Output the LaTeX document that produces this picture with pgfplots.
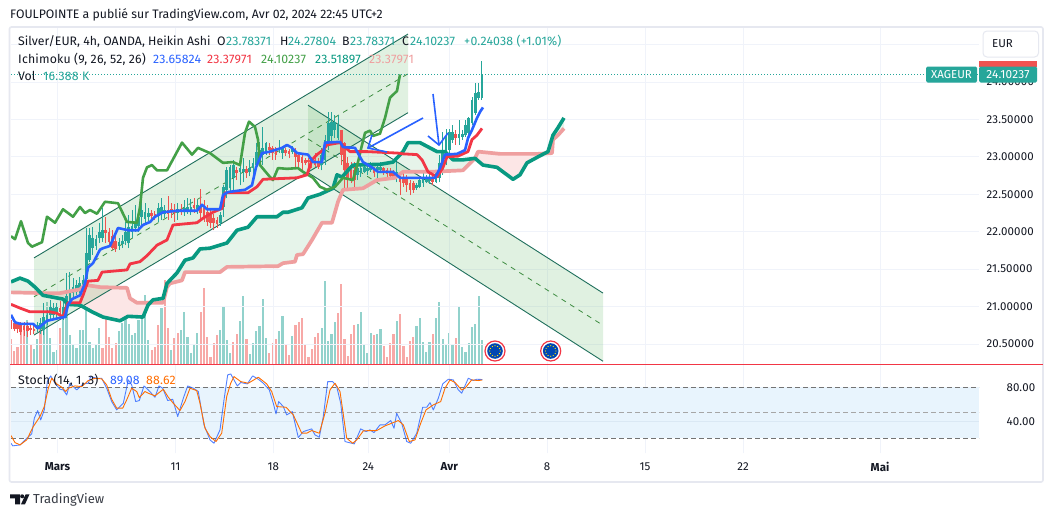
\documentclass[border=0pt]{standalone}
\usepackage{pgfplots}
\usepackage{pgfplotstable}
\usepackage{fontspec}
\pgfplotsset{compat=1.18}
\setmainfont{Fira Sans}
\newfontfamily\numf[LetterSpace=1.5]{Fira Sans}
\definecolor{cG}{HTML}{26A69A}
\definecolor{cR}{HTML}{EF5350}
\definecolor{vG}{HTML}{92D2CC}
\definecolor{vR}{HTML}{F7A9A7}
\definecolor{tenkan}{HTML}{2962FF}
\definecolor{kijun}{HTML}{F23645}
\definecolor{chikou}{HTML}{43A047}
\definecolor{spanA}{HTML}{089981}
\definecolor{spanB}{HTML}{EF9F9F}
\definecolor{cloudG}{HTML}{E6F4EA}
\definecolor{cloudR}{HTML}{FCE6E6}
\definecolor{chan}{HTML}{1F6F5C}
\definecolor{chanF}{HTML}{4CAF50}
\definecolor{gridc}{HTML}{F0F3FA}
\definecolor{framec}{HTML}{E6E8F0}
\definecolor{band}{HTML}{E8F4FD}
\definecolor{bandgrid}{HTML}{DAE8F4}
\definecolor{txt}{HTML}{131722}
\definecolor{stK}{HTML}{2962FF}
\definecolor{stD}{HTML}{FF6D00}

\pgfplotstableread{
i bot top lo hi
8 20.70 20.75 20.66 20.79
9 20.70 20.78 20.63 20.85
10 20.69 20.86 20.62 21.05
11 20.79 20.89 20.75 20.95
12 20.89 20.99 20.82 21.09
13 20.89 20.98 20.82 21.05
14 20.90 20.99 20.85 21.05
16 20.89 20.99 20.82 21.10
17 20.98 21.14 20.85 21.45
18 21.09 21.22 21.02 21.46
19 21.18 21.26 21.10 21.38
20 21.19 21.29 21.15 21.35
21 21.22 21.31 21.18 21.39
22 21.25 21.35 21.18 21.42
23 21.37 21.72 21.29 22.05
24 21.62 21.96 21.60 22.05
25 21.78 21.92 21.69 22.06
26 21.81 21.90 21.76 21.96
27 21.92 22.00 21.85 22.12
28 21.92 22.02 21.86 22.32
33 21.81 21.86 21.76 21.92
34 21.84 21.88 21.78 21.96
35 21.88 22.00 21.82 22.13
36 21.85 22.06 21.78 22.22
37 22.00 22.08 21.92 22.29
38 22.05 22.13 22.00 22.36
39 22.08 22.20 22.00 22.29
40 22.20 22.29 22.05 22.45
41 22.17 22.26 22.09 22.38
42 22.20 22.25 22.14 22.32
45 22.21 22.32 22.13 22.38
46 22.24 22.33 22.16 22.45
47 22.24 22.29 22.18 22.36
51 22.25 22.30 22.16 22.38
53 22.26 22.32 22.21 22.42
54 22.26 22.33 22.24 22.45
55 22.28 22.33 22.22 22.44
57 22.30 22.36 22.24 22.42
64 22.12 22.22 22.08 22.26
65 22.33 22.60 22.20 22.62
66 22.56 22.82 22.45 22.86
67 22.58 22.86 22.52 22.89
68 22.72 22.89 22.56 22.96
70 22.80 22.85 22.62 22.96
71 22.80 22.84 22.66 22.98
73 22.80 22.85 22.74 22.96
74 22.85 22.92 22.76 22.98
75 22.89 23.07 22.82 23.19
76 22.96 23.09 22.89 23.20
77 23.03 23.12 22.89 23.40
78 23.07 23.19 23.03 23.20
82 23.09 23.12 23.05 23.23
83 23.05 23.12 22.97 23.13
86 23.07 23.11 23.04 23.15
95 22.89 23.03 22.82 23.12
96 22.96 23.23 22.89 23.29
97 23.20 23.45 23.09 23.60
98 23.28 23.47 23.16 23.60
99 23.36 23.47 23.25 23.56
100 23.25 23.44 23.23 23.56
106 22.76 22.85 22.69 22.92
107 22.78 22.85 22.73 22.92
108 22.80 22.86 22.78 22.93
109 22.81 22.85 22.76 22.89
110 22.82 22.86 22.80 22.93
112 22.82 22.86 22.69 22.92
113 22.82 22.86 22.78 22.93
118 22.73 22.80 22.66 22.93
124 22.58 22.62 22.56 22.65
125 22.60 22.69 22.58 22.72
126 22.65 22.73 22.60 22.78
127 22.66 22.73 22.65 22.76
128 22.68 22.73 22.64 22.77
130 22.66 22.78 22.65 22.82
131 22.72 22.92 22.66 23.03
132 22.82 23.09 22.76 23.33
133 22.93 23.27 22.89 23.37
134 23.09 23.33 23.03 23.37
135 23.23 23.33 23.19 23.43
137 23.25 23.31 23.16 23.49
138 23.27 23.31 23.23 23.36
139 23.29 23.43 23.27 23.49
140 23.32 23.52 23.25 23.53
141 23.45 23.76 23.43 23.80
142 23.59 23.85 23.56 23.99
143 23.79 23.87 23.76 23.99
144 23.79 24.10 23.76 24.28
}\candleG
\pgfplotstableread{
i bot top lo hi
0 20.71 20.81 20.70 20.82
1 20.70 20.78 20.67 20.82
2 20.70 20.77 20.65 20.79
3 20.66 20.75 20.62 20.79
4 20.69 20.74 20.61 20.79
5 20.67 20.74 20.59 20.79
6 20.69 20.71 20.62 20.75
7 20.67 20.70 20.63 20.74
15 20.93 20.98 20.85 21.07
29 21.98 22.02 21.85 22.20
30 21.86 22.00 21.82 22.05
31 21.78 21.94 21.76 22.02
32 21.77 21.88 21.73 21.94
43 22.21 22.25 22.16 22.29
44 22.20 22.24 22.16 22.28
48 22.24 22.29 22.16 22.48
49 22.26 22.30 22.18 22.38
50 22.25 22.28 22.13 22.37
52 22.26 22.29 22.22 22.37
56 22.32 22.36 22.25 22.45
58 22.25 22.33 22.16 22.57
59 22.18 22.32 22.13 22.42
60 22.13 22.26 22.08 22.36
61 22.12 22.22 22.05 22.32
62 22.12 22.18 22.02 22.24
63 22.10 22.16 22.05 22.20
69 22.78 22.82 22.69 22.86
72 22.78 22.84 22.72 22.88
79 23.09 23.13 23.03 23.19
80 23.05 23.12 22.96 23.15
81 23.03 23.12 22.96 23.13
84 23.05 23.09 23.01 23.12
85 23.04 23.08 22.98 23.11
87 23.00 23.07 22.86 23.12
88 22.93 23.03 22.85 23.07
89 22.92 23.00 22.78 23.05
90 22.92 22.96 22.89 22.98
91 22.93 22.96 22.86 22.98
92 22.93 22.98 22.85 23.00
93 22.89 22.96 22.86 23.05
94 22.86 22.93 22.84 22.98
101 23.03 23.36 22.89 23.36
102 22.82 23.19 22.58 23.20
103 22.69 22.92 22.58 23.00
104 22.72 22.89 22.65 22.93
105 22.69 22.82 22.56 22.93
111 22.78 22.85 22.73 22.86
114 22.80 22.85 22.76 22.86
115 22.77 22.82 22.73 22.85
116 22.74 22.80 22.72 22.85
117 22.73 22.78 22.69 22.82
119 22.66 22.76 22.49 22.80
120 22.65 22.73 22.60 22.78
121 22.62 22.72 22.53 22.76
122 22.56 22.65 22.49 22.69
123 22.56 22.65 22.52 22.68
129 22.66 22.73 22.62 22.82
136 23.25 23.31 23.16 23.36
}\candleR

\pgfplotstableread{
i v
5 30.0
7 10.5
8 17.1
10 29.6
11 42.1
12 17.5
13 8.4
14 9.6
16 30.7
17 38.0
18 19.8
19 13.0
20 10.7
21 23.2
22 23.2
23 38.0
24 15.2
25 10.7
26 13.7
27 24.4
33 22.8
34 27.8
35 48.3
36 27.1
37 19.8
38 20.9
39 30.0
40 31.2
41 47.1
42 16.4
46 38.0
49 9.6
52 23.2
53 35.3
54 18.7
55 7.3
56 13.0
57 21.4
64 23.2
65 39.6
66 16.4
67 7.3
70 29.4
71 46.7
73 6.8
74 14.1
75 22.5
76 25.9
77 44.4
78 17.5
82 22.5
83 32.8
86 19.1
95 24.6
96 56.7
97 15.7
98 20.5
99 28.7
106 27.3
107 35.5
108 13.7
109 7.5
110 21.2
112 20.5
113 23.9
118 29.4
124 25.9
125 31.4
126 15.0
127 8.2
128 15.0
130 31.4
131 42.3
132 17.1
133 13.7
134 21.2
135 13.7
137 39.6
138 11.6
139 8.2
140 14.3
141 25.3
142 27.3
143 46.4
144 16.4
}\volG
\pgfplotstableread{
i v
0 16.8
1 8.9
2 11.8
3 24.4
4 27.8
6 13.7
9 23.7
15 24.4
28 10.7
29 46.0
30 18.7
31 10.7
32 14.6
43 9.6
44 11.8
45 26.6
47 57.4
48 24.4
50 17.5
51 21.4
58 35.3
59 52.1
60 18.7
61 5.0
62 14.1
63 19.8
68 15.2
69 20.5
72 16.8
79 7.5
80 14.1
81 17.1
84 13.0
85 6.1
87 26.6
88 28.7
89 31.4
90 13.7
91 4.8
92 10.2
93 18.4
94 21.2
100 34.8
101 54.6
102 17.1
103 5.5
104 20.5
105 26.6
111 19.8
114 12.3
115 4.8
116 14.3
117 20.5
119 34.1
120 12.3
121 4.8
122 15.7
123 18.4
129 20.5
136 17.8
}\volR

\pgfplotstableread{
x y
11 20.89
15 20.79
20 20.77
33 20.77
38 20.71
47 20.81
60 20.85
65 20.86
68 21.02
72 21.10
80 21.15
85 21.31
88 21.52
93 21.58
100 21.76
103 21.78
110 21.81
115 21.96
118 22.05
128 22.02
138 22.02
143 22.09
150 22.13
155 22.20
163 22.26
177 22.28
197 22.28
202 22.36
207 22.30
220 22.30
223 22.49
228 22.53
245 22.56
252 22.62
256 22.86
262 23.05
270 23.07
282 23.12
287 23.16
292 23.12
297 23.05
308 23.03
313 22.93
322 22.93
325 23.19
340 23.20
343 23.13
355 23.12
360 23.00
363 22.93
372 22.86
378 22.80
393 22.80
400 22.72
435 22.72
440 22.85
445 23.03
457 23.04
465 23.09
468 23.25
472 23.36
477 23.52
480 23.60
483 23.66
}\tenkanT
\pgfplotstableread{
x y
11 21.03
20 20.98
30 20.93
50 20.93
57 20.91
63 20.86
68 21.05
80 21.05
83 21.15
88 21.34
98 21.35
102 21.46
127 21.49
130 21.57
140 21.60
147 21.68
157 21.82
167 21.89
173 22.09
197 22.12
203 22.18
213 22.26
220 22.30
222 22.31
225 22.52
248 22.52
257 22.60
263 22.70
297 22.72
307 22.76
312 22.96
317 23.03
323 23.09
327 23.16
340 23.19
345 23.13
350 23.07
367 23.07
398 23.05
403 23.04
417 23.03
422 22.96
428 22.80
437 22.73
443 22.86
447 23.00
458 23.01
468 23.07
472 23.23
477 23.29
482 23.38
}\kijunT
\pgfplotstableread{
x y
11 21.94
15 21.90
21 22.14
28 21.85
32 21.80
42 21.86
47 22.20
55 22.12
63 22.30
73 22.20
80 22.33
85 22.25
90 22.29
97 22.24
105 22.40
118 22.38
127 22.13
137 22.12
140 22.33
143 22.72
147 22.86
152 22.89
157 22.82
167 22.82
182 23.19
192 23.03
198 23.12
210 23.05
223 22.92
233 22.93
240 22.89
245 23.32
249 23.47
255 23.40
258 23.23
260 22.89
270 22.73
273 22.69
278 22.85
287 22.84
298 22.85
303 22.80
313 22.72
320 22.60
327 22.56
335 22.60
343 22.72
353 22.69
358 22.93
362 23.16
365 23.32
370 23.35
373 23.28
380 23.31
385 23.52
390 23.79
397 23.88
400 24.10
}\chikouT
\pgfplotstableread{
x y
11 21.33
20 21.38
28 21.34
35 21.26
43 21.15
63 21.10
68 21.03
80 21.02
92 20.93
103 20.86
120 20.81
128 20.87
143 20.86
148 21.02
153 21.09
163 21.11
167 21.31
177 21.45
185 21.62
193 21.65
200 21.77
210 21.78
227 21.85
237 22.02
248 22.06
257 22.20
277 22.20
283 22.26
288 22.26
302 22.32
308 22.45
320 22.50
333 22.58
337 22.76
342 22.73
350 22.85
353 22.89
380 22.90
393 22.93
403 23.07
408 23.19
420 23.19
437 23.07
445 23.07
453 22.96
463 22.96
475 22.98
483 22.89
497 22.86
507 22.76
513 22.70
520 22.76
527 22.92
538 23.00
548 23.07
553 23.29
558 23.39
564 23.52
}\spanAT
\pgfplotstableread{
x y
11 21.19
43 21.18
60 21.18
80 21.23
85 21.29
100 21.26
127 21.25
130 21.11
137 21.05
163 21.05
167 21.26
170 21.31
182 21.35
185 21.46
220 21.46
227 21.53
278 21.54
283 21.58
295 21.60
297 21.69
303 21.70
312 21.89
322 22.12
332 22.12
338 22.40
343 22.56
363 22.58
377 22.69
395 22.72
403 22.80
430 22.80
447 22.81
463 22.82
475 22.98
478 23.07
500 23.04
538 23.04
552 23.05
553 23.23
558 23.29
564 23.38
}\spanBT

\pgfplotstableread{
x y
11 14.2
12.7 11.1
20 12.2
25 18.1
31.7 25.2
34.3 43.6
37.7 52.6
40.7 41.6
44.3 53.4
47.3 86.7
50.7 93.4
55 84.8
60 77.7
63.3 76.9
66.7 71.0
70 84.8
76.7 76.9
83.3 84.0
88.3 84.8
90.7 92.6
96.7 90.6
101.7 90.6
106.7 78.9
111.7 63.2
116.7 53.4
123.3 61.2
128.3 88.7
131.7 82.8
135.7 63.2
139.3 64.4
144 81.6
148.3 76.9
155 68.3
159 81.6
162.7 78.9
167.7 64.4
172.7 65.9
177.7 45.6
183.3 67.1
187.7 81.6
193.3 78.9
198.3 75.0
204 35.8
210 18.1
214 14.2
220 29.9
224 65.2
227.7 94.6
230.7 95.7
237.3 81.6
240.7 85.6
247.3 84.0
252.7 93.4
258.3 89.5
263.3 84.8
269.3 76.9
273.3 61.2
276 48.7
278.7 63.2
283.3 57.3
286.7 47.5
292.3 51.4
298.3 20.9
303.3 27.9
311.7 31.1
315 24.0
319.3 21.3
323.3 45.6
327.7 86.7
332.7 86.7
336.7 80.8
340.7 61.2
345 16.2
354.3 13.4
360.7 31.1
366 27.9
370 29.9
374 26.7
380 35.8
385 35.8
390.7 40.9
394 31.8
396.7 49.5
401.7 37.7
406.7 16.2
410.7 14.2
416.7 26.0
422.7 56.5
426.7 56.5
430 62.0
433.3 53.4
438.3 67.1
442.7 84.0
448.3 89.5
453.3 88.7
458.3 76.9
461.7 73.0
468.3 90.6
473.3 87.9
476.7 89.5
482.3 89.08
}\stochK
\pgfplotstableread{
x y
11 23.2
15 15.0
20 12.2
26.7 18.1
33.3 33.8
40 45.6
44.3 57.3
48.3 78.9
51.7 90.6
56.7 84.0
61.7 80.1
65.7 75.0
68.3 78.9
75 81.6
81.7 80.8
88.3 87.9
95 90.6
101.7 89.9
106.7 82.8
111.7 65.9
116.7 55.4
122.7 55.4
126.7 65.2
131.7 78.9
136.7 75.0
139.3 67.9
145 75.0
148.3 73.0
155 69.9
163.3 77.7
168.3 68.3
173.3 61.2
180 52.6
185 63.2
190 78.9
196.7 76.1
200 61.2
205 31.8
210 22.0
216 16.2
221.7 26.0
226.7 69.1
230.7 84.8
234 92.6
240.7 86.7
248.3 84.8
258.3 91.8
266.7 84.0
271.7 75.0
276.7 57.3
286 56.5
293.3 47.5
301.7 26.0
306.7 26.0
311.7 29.1
319.3 26.0
325 49.5
330 76.9
335 84.8
340 75.0
346.7 20.1
352.7 14.2
356.7 18.1
363.3 28.7
370 29.1
376.7 29.1
385 34.6
391.7 37.7
398.3 40.9
403.3 35.8
409.3 16.2
415 18.1
420.7 37.7
426 53.4
433.3 59.3
440.7 63.2
445 78.9
450 88.7
455 85.6
461.7 76.9
465 78.9
471.7 88.7
478.3 87.9
482.3 88.62
}\stochD

\pgfplotsset{
  pane/.style={
    scale only axis, width=968bp,
    xmin=11, xmax=979,
    axis line style={draw=none},
    major tick length=0pt,
    tick style={draw=none},
    grid style={gridc, line width=0.8bp},
  },
}
\begin{document}
\begin{tikzpicture}
\fill[white] (0,0) rectangle (1053bp,-517bp);
\path[use as bounding box] (0,0) rectangle (1053bp,-517bp);

% volume pane
\begin{axis}[pane, hide axis, at={(11bp,-364bp)}, anchor=south west, height=336bp,
  ymin=0, ymax=229.4, clip=true]
\addplot[ycomb, draw=vG, line width=2.2bp, mark=none, forget plot] table[x expr={11+3.27*\thisrow{i}}, y=v] {\volG};
\addplot[ycomb, draw=vR, line width=2.2bp, mark=none, forget plot] table[x expr={11+3.27*\thisrow{i}}, y=v] {\volR};
\end{axis}

% price pane
\begin{axis}[pane, at={(11bp,-364bp)}, anchor=south west, height=336bp,
  ymin=20.233, ymax=24.721,
  xtick={57.5,175.5,273.3,368.3,449.3,547,645,743,880}, xticklabels={},
  ytick={20.5,21,21.5,22,22.5,23,23.5,24},
  extra y ticks={24.5}, extra y tick labels={},
  xmajorgrids, ymajorgrids,
  yticklabel pos=right,
  /pgf/number format/.cd, fixed, fixed zerofill, precision=5, assume math mode=true, 1000 sep={},
  /pgfplots/yticklabel style={font=\numf\fontsize{11.5bp}{12bp}\selectfont, text=txt, xshift=4bp},
]
% cloud
\addplot[fill=cloudG, draw=none, forget plot] coordinates {(11,21.33) (20,21.38) (28,21.34) (35,21.26) (40,21.19) (11,21.19)} -- cycle;
\addplot[fill=cloudR, draw=none, forget plot] coordinates {(40,21.18) (60,21.18) (80,21.23) (85,21.29) (100,21.26) (127,21.25) (130,21.11) (137,21.05) (150,21.05) (148,21.02) (143,20.86) (128,20.87) (120,20.81) (103,20.86) (92,20.93) (80,21.02) (68,21.03) (63,21.10) (43,21.15)} -- cycle;
\addplot[fill=cloudG, draw=none, forget plot] coordinates {(150,21.05) (153,21.09) (163,21.11) (167,21.31) (177,21.45) (185,21.62) (193,21.65) (200,21.77) (210,21.78) (227,21.85) (237,22.02) (248,22.06) (257,22.20) (277,22.20) (283,22.26) (288,22.26) (302,22.32) (308,22.45) (320,22.50) (333,22.58) (337,22.76) (342,22.73) (350,22.85) (353,22.89) (380,22.90) (393,22.93) (403,23.07) (408,23.19) (420,23.19) (437,23.07) (445,23.07) (453,22.96) (463,22.96) (475,22.98) (463,22.82) (447,22.81) (430,22.80) (403,22.80) (395,22.72) (377,22.69) (363,22.58) (343,22.56) (338,22.40) (332,22.12) (322,22.12) (312,21.89) (303,21.70) (297,21.69) (295,21.60) (283,21.58) (278,21.54) (227,21.53) (220,21.46) (185,21.46) (182,21.35) (170,21.31) (167,21.26) (163,21.05)} -- cycle;
\addplot[fill=cloudR, draw=none, forget plot] coordinates {(475,22.98) (478,23.07) (500,23.04) (538,23.04) (546,23.05) (538,23.00) (527,22.92) (520,22.76) (513,22.70) (507,22.76) (497,22.86) (483,22.89)} -- cycle;
\addplot[fill=cloudG, draw=none, forget plot] coordinates {(546,23.05) (548,23.07) (553,23.29) (558,23.39) (564,23.52) (564,23.38) (558,23.29) (553,23.23) (552,23.05)} -- cycle;
% channels
\addplot[fill=chanF, fill opacity=0.17, draw=none, forget plot] coordinates {(34,21.65) (408,24.64) (408,23.59) (34,20.62)} -- cycle;
\addplot[fill=chanF, fill opacity=0.17, draw=none, forget plot] coordinates {(308,23.69) (603,21.18) (603,20.27) (308,22.79)} -- cycle;
\addplot[chan, line width=0.9bp, forget plot] coordinates {(34,21.65) (408,24.64)};
\addplot[chan, line width=0.9bp, forget plot] coordinates {(34,20.62) (408,23.59)};
\addplot[chanF!80!black, line width=0.8bp, dash pattern=on 5bp off 5bp, forget plot] coordinates {(34,21.13) (408,24.11)};
\addplot[chan, line width=0.9bp, forget plot] coordinates {(308,23.69) (603,21.18)};
\addplot[chan, line width=0.9bp, forget plot] coordinates {(308,22.79) (603,20.27)};
\addplot[chanF!80!black, line width=0.8bp, dash pattern=on 5bp off 5bp, forget plot] coordinates {(308,23.24) (603,20.75)};
% last price
\addplot[cG, line width=0.9bp, dash pattern=on 1bp off 2bp, forget plot] coordinates {(11,24.10237) (979,24.10237)};
% candles
\addplot[draw=none, mark=none, forget plot, error bars/.cd, y dir=plus, y explicit, error mark=none, error bar style={draw=cR, line width=0.8bp}] table[x expr={11+3.27*\thisrow{i}}, y=lo, y error plus expr={\thisrow{hi}-\thisrow{lo}}] {\candleR};
\addplot[draw=none, mark=none, forget plot, error bars/.cd, y dir=plus, y explicit, error mark=none, error bar style={draw=cR, line width=2.7bp}] table[x expr={11+3.27*\thisrow{i}}, y=bot, y error plus expr={\thisrow{top}-\thisrow{bot}}] {\candleR};
\addplot[draw=none, mark=none, forget plot, error bars/.cd, y dir=plus, y explicit, error mark=none, error bar style={draw=cG, line width=0.8bp}] table[x expr={11+3.27*\thisrow{i}}, y=lo, y error plus expr={\thisrow{hi}-\thisrow{lo}}] {\candleG};
\addplot[draw=none, mark=none, forget plot, error bars/.cd, y dir=plus, y explicit, error mark=none, error bar style={draw=cG, line width=2.7bp}] table[x expr={11+3.27*\thisrow{i}}, y=bot, y error plus expr={\thisrow{top}-\thisrow{bot}}] {\candleG};
% ichimoku lines
\addplot[spanB, line width=3.7bp, line join=round, forget plot] table[x=x,y=y] {\spanBT};
\addplot[spanA, line width=3.6bp, line join=round, forget plot] table[x=x,y=y] {\spanAT};
\addplot[chikou, line width=2.6bp, line join=round, forget plot] table[x=x,y=y] {\chikouT};
\addplot[kijun, line width=2.8bp, line join=round, forget plot] table[x=x,y=y] {\kijunT};
\addplot[tenkan, line width=2.6bp, line join=round, forget plot] table[x=x,y=y] {\tenkanT};
\end{axis}

% stochastic pane
\begin{axis}[pane, at={(11bp,-453bp)}, anchor=south west, height=88bp,
  ymin=2.7, ymax=106.2,
  xtick={57.5,175.5,273.3,368.3,449.3,547,645,743,880},
  xticklabels={\textbf{Mars},11,18,24,\textbf{Avr},8,15,22,\textbf{Mai}},
  ytick={40,80},
  xmajorgrids, ymajorgrids,
  yticklabel pos=right,
  xticklabel style={font=\fontsize{11.5bp}{12bp}\selectfont, text=txt, yshift=-6bp},
  /pgf/number format/.cd, fixed, fixed zerofill, precision=2, assume math mode=true,
  /pgfplots/yticklabel style={font=\numf\fontsize{11.5bp}{12bp}\selectfont, text=txt, xshift=24bp},
]
\addplot[draw=none, fill=band, forget plot] coordinates {(11,20) (979,20) (979,80) (11,80)} -- cycle;
\addplot[bandgrid, line width=0.7bp, forget plot] coordinates {(11,40) (979,40)};
\addplot[gray!90!black, line width=0.9bp, dash pattern=on 5bp off 3bp, forget plot] coordinates {(11,80) (979,80)};
\addplot[gray!70, line width=0.9bp, dash pattern=on 5bp off 3bp, forget plot] coordinates {(11,50) (979,50)};
\addplot[gray!90!black, line width=0.9bp, dash pattern=on 5bp off 3bp, forget plot] coordinates {(11,20) (979,20)};
\addplot[stK, line width=0.9bp, line join=round, opacity=.8, forget plot] table[x=x,y=y] {\stochK};
\addplot[stD, line width=0.9bp, line join=round, forget plot] table[x=x,y=y] {\stochD};
\end{axis}

\begin{scope}[x=1bp,y=-1bp]
% frame and separator
\draw[framec, line width=1.6bp, rounded corners=2bp] (9.5,27) rectangle (1043,482);
\draw[kijun, line width=1.3bp] (10,364.3) -- (1043,364.3);
% arrows
\draw[tenkan, line width=1.6bp] (423,118) -- (368,148);
\draw[tenkan, line width=1.6bp] (372,135) -- (368,148) -- (387,152);
\draw[tenkan, line width=1.6bp] (433,94) -- (439,145);
\draw[tenkan, line width=1.6bp] (428,136) -- (439,145) -- (448,133);
% event markers
\foreach \cx in {495,550.7}{
  \fill[white] (\cx,351) circle (11);
  \draw[kijun, line width=1.2bp] (\cx,351) circle (10);
  \fill[blue!60!cyan!70!black] (\cx,351) circle (7.8);
  \foreach \a in {0,30,...,330} \fill[yellow!85!orange] ({\cx+5.2*cos(\a)},{351+5.2*sin(\a)}) circle (0.65);
}
% price badges
\fill[cR] (979,61) rectangle (1037,67);
\fill[cG, rounded corners=1.5bp] (926,66.5) rectangle (977,82.5);
\fill[cG, rounded corners=1.5bp] (979,66.5) rectangle (1037,82.5);
\node[text=white, font=\fontsize{11.5bp}{12bp}\selectfont, anchor=center] at (951.5,75) {XAGEUR};
\node[text=white, font=\numf\fontsize{11.8bp}{12bp}\selectfont, anchor=center] at (1008,75) {24.10237};
% EUR button
\draw[framec, fill=white, line width=1bp, rounded corners=4bp] (983,31) rectangle (1038.5,57);
\node[text=txt, font=\fontsize{11.5bp}{12bp}\selectfont, anchor=west, inner sep=0pt] at (992,44) {EUR};
% texts
\def\f{\fontsize{12.3bp}{13bp}\selectfont}
\def\g{\numf\fontsize{12.3bp}{13bp}\selectfont}
\node[text=txt, font=\f, anchor=west, inner sep=0pt] at (10,14.5) {FOULPOINTE a publié sur TradingView.com, Avr 02, 2024 22:45 UTC+2};
\node[text=txt, font=\f, anchor=west, inner sep=0pt] at (18,41.5) {Silver/EUR, 4h, OANDA, Heikin Ashi};
\node[text=txt, font=\f, anchor=west, inner sep=0pt] at (217,41.5) {O};
\node[text=cG, font=\g, anchor=west, inner sep=0pt] at (226,41.5) {23.78371};
\node[text=txt, font=\f, anchor=west, inner sep=0pt] at (280,41.5) {H};
\node[text=cG, font=\g, anchor=west, inner sep=0pt] at (288,41.5) {24.27804};
\node[text=txt, font=\f, anchor=west, inner sep=0pt] at (342,41.5) {B};
\node[text=cG, font=\g, anchor=west, inner sep=0pt] at (350,41.5) {23.78371};
\node[text=txt, font=\f, anchor=west, inner sep=0pt] at (402,41.5) {C};
\node[text=cG, font=\g, anchor=west, inner sep=0pt] at (410,41.5) {24.10237};
\node[text=cG, font=\g, anchor=west, inner sep=0pt] at (464,41.5) {+0.24038 (+1.01\%)};
\node[text=txt, font=\g, anchor=west, inner sep=0pt] at (18,59) {Ichimoku (9, 26, 52, 26)};
\node[text=tenkan, font=\g, anchor=west, inner sep=0pt] at (153,59) {23.65824};
\node[text=kijun, font=\g, anchor=west, inner sep=0pt] at (207,59) {23.37971};
\node[text=chikou, font=\g, anchor=west, inner sep=0pt] at (261,59) {24.10237};
\node[text=spanA, font=\g, anchor=west, inner sep=0pt] at (315,59) {23.51897};
\node[text=spanB, font=\g, anchor=west, inner sep=0pt] at (369,59) {23.37971};
\node[text=txt, font=\f, anchor=west, inner sep=0pt] at (18,76) {Vol};
\node[text=cG, font=\g, anchor=west, inner sep=0pt] at (43,76) {16.388 K};
\node[text=txt, font=\g, anchor=west, inner sep=0pt] at (18,380) {Stoch (14, 1, 3)};
\node[text=stK, font=\g, anchor=west, inner sep=0pt] at (110,380) {89.08};
\node[text=stD, font=\g, anchor=west, inner sep=0pt] at (146,380) {88.62};
% TradingView logo
\fill[txt] (10,494.3) -- (20,494.3) -- (20,504.3) -- (15,504.3) -- (15,498.3) -- (10,498.3) -- cycle;
\fill[txt] (22.2,496.3) circle (2);
\fill[txt] (25.6,494.3) -- (29.5,494.3) -- (25,504.3) -- (21,504.3) -- cycle;
\node[text=txt!85, font=\fontsize{13bp}{14bp}\selectfont, anchor=west, inner sep=0pt] at (33,499.5) {TradingView};
\end{scope}
\end{tikzpicture}
\end{document}
